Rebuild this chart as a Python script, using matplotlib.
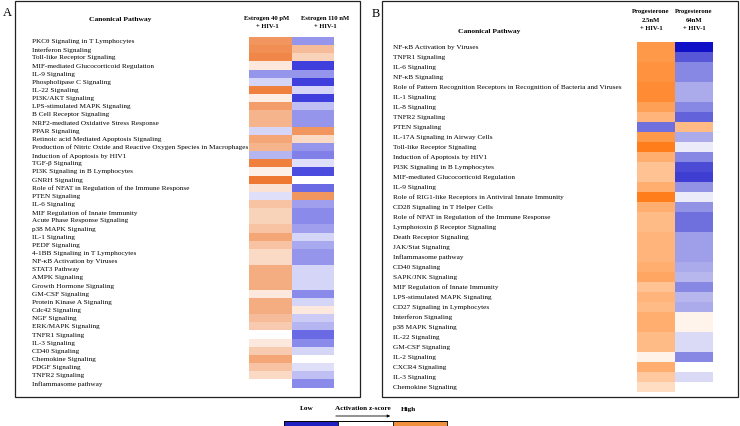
import matplotlib.pyplot as plt
import numpy as np
from matplotlib.colors import LinearSegmentedColormap, ListedColormap
from matplotlib.patches import Rectangle

plt.rcParams['font.family'] = ['Liberation Serif', 'DejaVu Serif']

# ---- panel A: estrogen ----
pathways_a = [
    "PKC\u03b8 Signaling in T Lymphocytes", "Interferon Signaling", "Toll-like Receptor Signaling",
    "MIF-mediated Glucocorticoid Regulation", "IL-9 Signaling", "Phospholipase C Signaling",
    "IL-22 Signaling", "PI3K/AKT Signaling", "LPS-stimulated MAPK Signaling",
    "B Cell Receptor Signaling", "NRF2-mediated Oxidative Stress Response", "PPAR Signaling",
    "Retinoic acid Mediated Apoptosis Signaling",
    "Production of Nitric Oxide and Reactive Oxygen Species in Macrophages",
    "Induction of Apoptosis by HIV1", "TGF-\u03b2 Signaling", "PI3K Signaling in B Lymphocytes",
    "GNRH Signaling", "Role of NFAT in Regulation of the Immune Response", "PTEN Signaling",
    "IL-6 Signaling", "MIF Regulation of Innate Immunity", "Acute Phase Response Signaling",
    "p38 MAPK Signaling", "IL-1 Signaling", "PEDF Signaling", "4-1BB Signaling in T Lymphocytes",
    "NF-\u03baB Activation by Viruses", "STAT3 Pathway", "AMPK Signaling",
    "Growth Hormone Signaling", "GM-CSF Signaling", "Protein Kinase A Signaling",
    "Cdc42 Signaling", "NGF Signaling", "ERK/MAPK Signaling", "TNFR1 Signaling",
    "IL-3 Signaling", "CD40 Signaling", "Chemokine Signaling", "PDGF Signaling",
    "TNFR2 Signaling", "Inflammasome pathway",
]
nan = np.nan
estrogen_40pm = [0.7, 0.75, 0.8, 0.15, -0.5, -0.2, 0.85, 0.12, 0.65, 0.5, 0.5, -0.2,
                 0.6, 0.5, -0.35, 0.85, 0.1, 0.9, 0.2, -0.15, 0.4, 0.3, 0.3, 0.4,
                 0.6, 0.4, 0.25, 0.25, 0.55, 0.55, 0.55, 0.15, 0.55, 0.55, 0.45, 0.35,
                 nan, 0.15, 0.35, 0.6, 0.4, 0.25, nan]
estrogen_110nm = [-0.5, 0.45, 0.3, -0.9, -0.5, -0.9, -0.2, -0.9, -0.3, -0.5, -0.5, 0.7,
                  0.25, -0.5, -0.6, -0.15, -0.85, nan, -0.7, 0.7, -0.45, -0.55, -0.55, -0.45,
                  -0.2, -0.4, -0.5, -0.5, -0.2, -0.2, -0.2, -0.55, -0.2, 0.15, -0.25, -0.35,
                  -0.7, -0.55, -0.2, nan, -0.15, -0.3, -0.55]
cols_a = ["Estrogen 40 pM\n+ HIV-1", "Estrogen 110 nM\n+ HIV-1"]

# ---- panel B: progesterone ----
pathways_b = [
    "NF-\u03baB Activation by Viruses", "TNFR1 Signaling", "IL-6 Signaling", "NF-\u03baB Signaling",
    "Role of Pattern Recognition Receptors in Recognition of Bacteria and Viruses",
    "IL-1 Signaling", "IL-8 Signaling", "TNFR2 Signaling", "PTEN Signaling",
    "IL-17A Signaling in Airway Cells", "Toll-like Receptor Signaling",
    "Induction of Apoptosis by HIV1", "PI3K Signaling in B Lymphocytes",
    "MIF-mediated Glucocorticoid Regulation", "IL-9 Signaling",
    "Role of RIG1-like Receptors in Antiviral Innate Immunity", "CD28 Signaling in T Helper Cells",
    "Role of NFAT in Regulation of the Immune Response", "Lymphotoxin \u03b2 Receptor Signaling",
    "Death Receptor Signaling", "JAK/Stat Signaling", "Inflammasome pathway", "CD40 Signaling",
    "SAPK/JNK Signaling", "MIF Regulation of Innate Immunity", "LPS-stimulated MAPK Signaling",
    "CD27 Signaling in Lymphocytes", "Interferon Signaling", "p38 MAPK Signaling",
    "IL-22 Signaling", "GM-CSF Signaling", "IL-2 Signaling", "CXCR4 Signaling",
    "IL-3 Signaling", "Chemokine Signaling",
]
prog_2_5nm = [0.75, 0.75, 0.8, 0.8, 0.85, 0.85, 0.7, 0.55, -0.6, 0.75, 0.95, 0.6,
              0.45, 0.45, 0.6, 0.95, 0.6, 0.5, 0.5, 0.55, 0.55, 0.55, 0.6, 0.65,
              0.45, 0.55, 0.5, 0.6, 0.6, 0.5, 0.5, 0.1, 0.6, 0.4, 0.25]
prog_64nm = [-1.0, -0.7, -0.5, -0.5, -0.35, -0.35, -0.5, -0.65, 0.5, -0.35, -0.08, -0.5,
             -0.75, -0.8, -0.45, -0.08, -0.45, -0.6, -0.6, -0.4, -0.4, -0.4, -0.35, -0.3,
             -0.5, -0.3, -0.35, 0.08, 0.08, -0.15, -0.15, -0.5, nan, -0.15, nan]
cols_b = ["Progesterone\n2.5nM\n+ HIV-1", "Progesterone\n64nM\n+ HIV-1"]

cmap_a = LinearSegmentedColormap.from_list("a", ["#2b2bd9", "#ffffff", "#ec6a1c"])
cmap_b = LinearSegmentedColormap.from_list("b", ["#0f0fc8", "#ffffff", "#ff7810"])

W, H = 740, 426
fig = plt.figure(figsize=(7.4, 4.26), dpi=100)


def px_axes(x0, y0, x1, y1):
    return fig.add_axes([x0 / W, 1 - y1 / H, (x1 - x0) / W, (y1 - y0) / H])


def heat(ax, names, cols, cmap, label_pad):
    z = np.ma.masked_invalid(np.array(cols, dtype=float).T)
    ax.pcolormesh(z, cmap=cmap, vmin=-1, vmax=1)
    ax.set_ylim(len(names), 0)
    ax.set_yticks(np.arange(len(names)) + 0.5)
    ax.set_yticklabels(names, ha='left', fontsize=5.2)
    ax.tick_params(axis='y', length=0, pad=label_pad)
    ax.set_xticks([])
    for s in ax.spines.values():
        s.set_visible(False)


def header(x, y, txt):
    fig.text(x / W, 1 - y / H, txt, fontsize=4.8, fontweight='bold', ha='center', va='top',
             linespacing=1.75)


# panel frames
fig.patches.append(Rectangle((15 / W, 1 - 397 / H), 345 / W, 396 / H, transform=fig.transFigure,
                             fill=False, lw=0.9, ec='#222222'))
fig.patches.append(Rectangle((382 / W, 1 - 397 / H), 356 / W, 396 / H, transform=fig.transFigure,
                             fill=False, lw=0.9, ec='#222222'))
fig.text(3 / W, 1 - 13 / H, "A", fontsize=9, va='center')
fig.text(372 / W, 1 - 14 / H, "B", fontsize=9, va='center')

ax_a = px_axes(249, 37, 334, 387.5)
heat(ax_a, pathways_a, [estrogen_40pm, estrogen_110nm], cmap_a, 156)
fig.text(120 / W, 1 - 19 / H, "Canonical Pathway", fontsize=5.4, fontweight='bold',
         ha='center', va='center')
header(267, 16, cols_a[0])
header(325, 16, cols_a[1])

ax_b = px_axes(637, 42, 713, 392)
heat(ax_b, pathways_b, [prog_2_5nm, prog_64nm], cmap_b, 175.5)
fig.text(489 / W, 1 - 32 / H, "Canonical Pathway", fontsize=5.4, fontweight='bold',
         ha='center', va='center')
header(651, 9.5, cols_b[0])
header(694, 9.5, cols_b[1])

# legend bar
ax_c = px_axes(284, 421, 447, 428)
ax_c.pcolormesh(np.array([[-1, 0, 1]]), cmap=ListedColormap(["#2020c0", "#ffffff", "#f0903c"]),
                edgecolors='#222222', linewidth=0.6)
ax_c.set_xticks([])
ax_c.set_yticks([])
for s in ax_c.spines.values():
    s.set_linewidth(0.6)
fig.text(307 / W, 1 - 409 / H, "Low", fontsize=5.2, fontweight='bold', ha='center', va='center')
fig.text(363 / W, 1 - 409 / H, "Activation z-score", fontsize=5.2, fontweight='bold',
         ha='center', va='center')
fig.text(408 / W, 1 - 409 / H, "High", fontsize=5.2, fontweight='bold', ha='center', va='center')
fig.add_artist(plt.Annotation("", xy=(393 / W, 1 - 416 / H), xytext=(333 / W, 1 - 416 / H),
                              xycoords='figure fraction',
                              arrowprops=dict(arrowstyle='-|>', lw=0.6, color='black',
                                              mutation_scale=4)))

fig.savefig("out.png", dpi=100)
